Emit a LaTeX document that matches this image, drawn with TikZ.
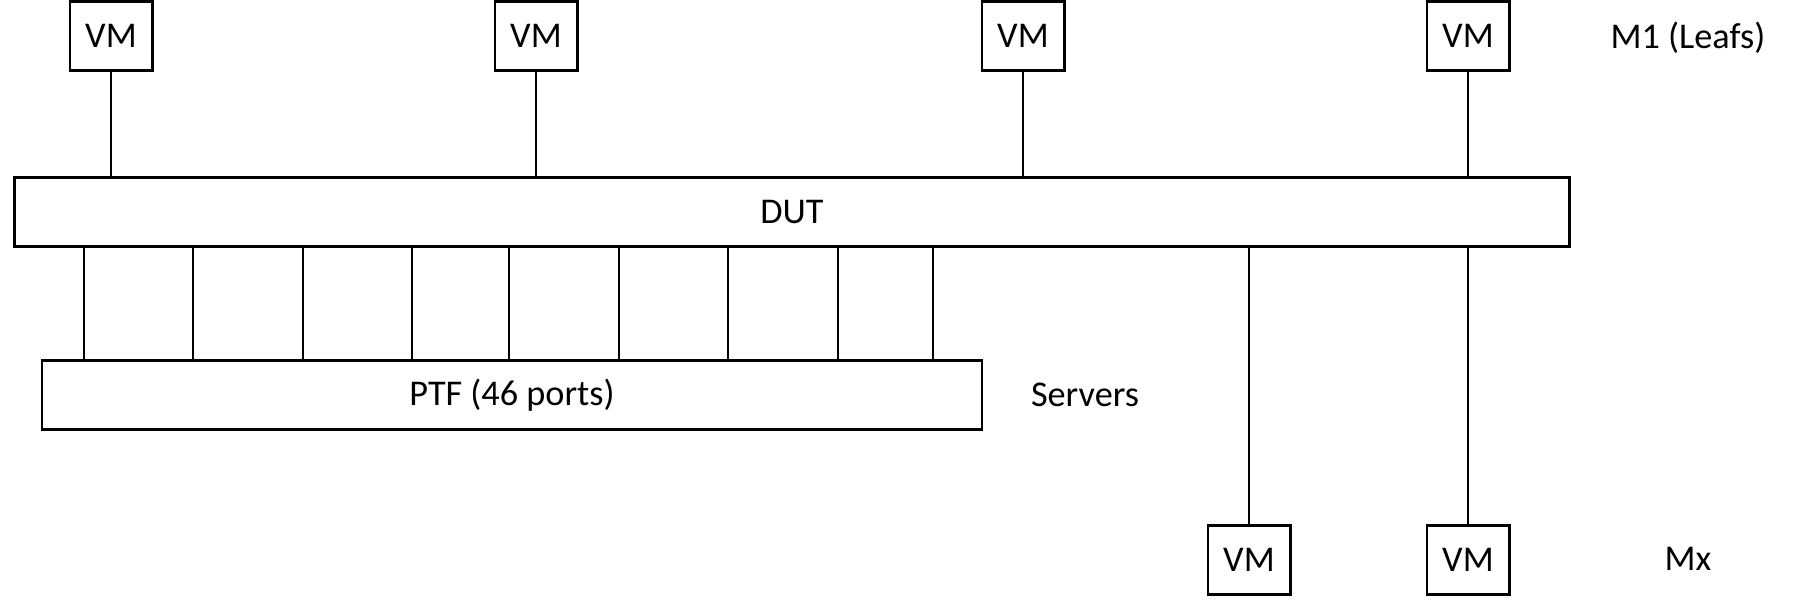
\documentclass[tikz,border=0pt]{standalone}
\usepackage{fontspec}
\setmainfont{Carlito}
\begin{document}
\begin{tikzpicture}[x=0.4pt,y=-0.4pt,
  every node/.style={font=\fontsize{14.5}{17}\selectfont},
  vmbox/.style={draw,line width=1pt,minimum width=33pt,minimum height=27.6pt,inner sep=0pt},
  bar/.style={draw,line width=1pt,minimum height=27.6pt,inner sep=0pt},
  lbl/.style={inner sep=0pt},
  wire/.style={line width=1pt}]
\useasboundingbox (0,0) rectangle (1800,600);
% top VMs
\node[vmbox] (vm1) at (111,36) {VM};
\node[vmbox] (vm2) at (536,36) {VM};
\node[vmbox] (vm3) at (1023,36) {VM};
\node[vmbox] (vm4) at (1468,36) {VM};
% DUT and PTF
\node[bar,minimum width=622pt] (dut) at (792,212) {DUT};
\node[bar,minimum width=376pt] (ptf) at (512,395) {PTF (46 ports)};
% bottom VMs
\node[vmbox] (vm5) at (1249,560) {VM};
\node[vmbox] (vm6) at (1468,560) {VM};
% labels
\node[lbl] (m1) at (1688,38) {M1 (Leafs)};
\node[lbl] (srv) at (1085,395) {Servers};
\node[lbl] (mx) at (1688,559) {Mx};
% top connectors
\foreach \v in {vm1,vm2,vm3,vm4}
  \draw[wire] (\v.south) -- (\v.south |- dut.north);
% bottom connectors
\foreach \v in {vm5,vm6}
  \draw[wire] (\v.north) -- (\v.north |- dut.south);
% PTF ports
\foreach \i/\x in {1/84,2/193,3/303,4/412,5/509,6/619,7/728,8/838,9/933}{
  \coordinate (p\i) at (\x,300);
  \draw[wire] (dut.south -| p\i) -- (ptf.north -| p\i);
}
\end{tikzpicture}
\end{document}
